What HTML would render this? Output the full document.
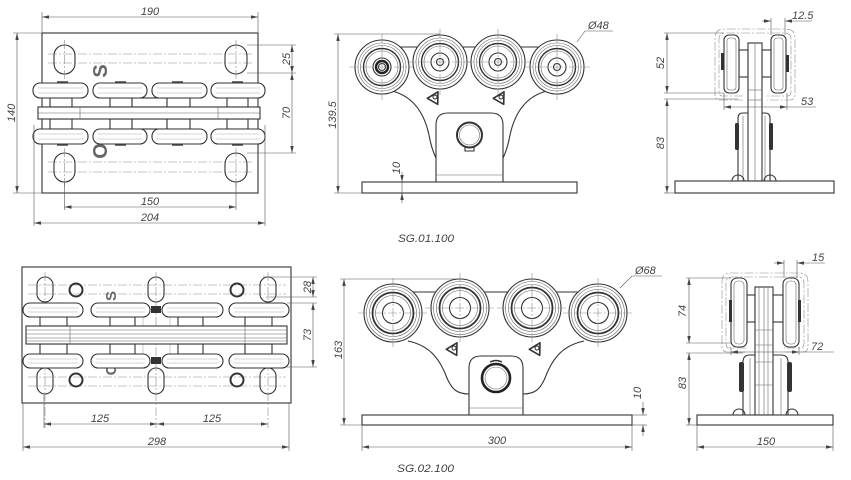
<!DOCTYPE html>
<html><head><meta charset="utf-8"><style>
html,body{margin:0;padding:0;background:#fff;}
svg{display:block}
.o{stroke:#333;stroke-width:1.1;fill:none}
.f{stroke:#333;stroke-width:1.1;fill:#fff}
.th{stroke:#666;stroke-width:.6;fill:none}
.lt{stroke:#aaa;stroke-width:.6;fill:none}
.d{stroke:#555;stroke-width:.6;fill:none}
.c{stroke:#8a8a8a;stroke-width:.6;fill:none;stroke-dasharray:9 2 2 2}
.t{font-family:"Liberation Sans",sans-serif;font-style:italic;font-size:11px;fill:#444}
.lg{font-family:"Liberation Sans",sans-serif;font-weight:bold;fill:#666}
</style></head><body>
<svg width="851" height="480" viewBox="0 0 851 480" xmlns="http://www.w3.org/2000/svg">
<defs>
<marker id="a" viewBox="0 0 8 4" refX="8" refY="2" markerWidth="7" markerHeight="3.5" orient="auto-start-reverse" markerUnits="userSpaceOnUse"><path d="M0,0L8,2L0,4z" fill="#444"/></marker>
<g id="w48">
<circle r="27" class="f"/>
<circle r="24" class="th"/>
<circle r="21.5" class="th"/>
<circle r="18.5" stroke="#333" stroke-width="1.4" fill="none"/>
<circle r="16" class="th"/>
<circle r="9" class="o"/>
<circle r="3.5" class="o"/>
<line x1="-33" y1="0" x2="33" y2="0" class="c"/>
<line x1="0" y1="-33" x2="0" y2="33" class="c"/>
</g>
<g id="w68">
<circle r="29" class="f"/>
<circle r="26.5" class="th"/>
<circle r="23.5" class="th"/>
<circle r="20.5" stroke="#333" stroke-width="1.8" fill="none"/>
<circle r="17.5" class="th"/>
<circle r="10.5" class="o"/>
<line x1="-35" y1="0" x2="35" y2="0" class="c"/>
<line x1="0" y1="-35" x2="0" y2="35" class="c"/>
</g>
<g id="tri">
<path d="M0,-6 L6,5 L-6,5 Z" stroke="#333" stroke-width="1.6" fill="#fff" stroke-linejoin="round"/>
<circle r="2" class="o"/>
</g>
</defs>

<!-- ================= VIEW 1 (top-left) ================= -->
<rect x="42" y="33" width="216" height="160" class="o"/>
<line x1="48" y1="54" x2="252" y2="54" class="c"/>
<line x1="48" y1="63" x2="252" y2="63" class="c"/>
<line x1="48" y1="162" x2="252" y2="162" class="c"/>
<line x1="48" y1="172" x2="252" y2="172" class="c"/>
<rect x="54" y="45" width="21" height="29" rx="10.5" class="o"/>
<rect x="225" y="45" width="22" height="29" rx="11" class="o"/>
<rect x="54" y="153" width="21" height="29" rx="10.5" class="o"/>
<rect x="225" y="153" width="22" height="29" rx="11" class="o"/>
<line x1="64.5" y1="40" x2="64.5" y2="80" class="c"/>
<line x1="236" y1="40" x2="236" y2="80" class="c"/>
<line x1="64.5" y1="148" x2="64.5" y2="188" class="c"/>
<line x1="236" y1="148" x2="236" y2="188" class="c"/>
<text class="lg" font-size="20" text-anchor="middle" transform="translate(107,71) rotate(-90)">S</text>
<text class="lg" font-size="20" text-anchor="middle" transform="translate(107,151) rotate(-90)">O</text>
<!-- stubs -->
<rect x="50" y="98" width="22" height="9" class="f"/>
<rect x="110" y="98" width="22" height="9" class="f"/>
<rect x="132" y="98" width="35" height="9" class="f"/>
<rect x="167" y="98" width="23" height="9" class="f"/>
<rect x="227" y="98" width="21" height="9" class="f"/>
<rect x="50" y="119" width="22" height="10" class="f"/>
<rect x="110" y="119" width="22" height="10" class="f"/>
<rect x="132" y="119" width="35" height="10" class="f"/>
<rect x="167" y="119" width="23" height="10" class="f"/>
<rect x="227" y="119" width="21" height="10" class="f"/>
<!-- center bar -->
<rect x="38" y="107" width="222" height="12" class="f"/>
<line x1="38" y1="113" x2="260" y2="113" class="th"/>
<line x1="80" y1="107" x2="80" y2="119" class="th"/>
<line x1="218" y1="107" x2="218" y2="119" class="th"/>
<!-- rollers -->
<rect x="33" y="83" width="55" height="15" rx="7" class="f"/>
<rect x="93" y="83" width="54" height="15" rx="7" class="f"/>
<rect x="152" y="83" width="55" height="15" rx="7" class="f"/>
<rect x="211" y="83" width="54" height="15" rx="7" class="f"/>
<rect x="33" y="129" width="55" height="15" rx="7" class="f"/>
<rect x="93" y="129" width="54" height="15" rx="7" class="f"/>
<rect x="152" y="129" width="55" height="15" rx="7" class="f"/>
<rect x="211" y="129" width="54" height="15" rx="7" class="f"/>
<g class="lt">
<line x1="38" y1="88" x2="83" y2="88"/><line x1="38" y1="93" x2="83" y2="93"/>
<line x1="98" y1="88" x2="142" y2="88"/><line x1="98" y1="93" x2="142" y2="93"/>
<line x1="157" y1="88" x2="202" y2="88"/><line x1="157" y1="93" x2="202" y2="93"/>
<line x1="216" y1="88" x2="260" y2="88"/><line x1="216" y1="93" x2="260" y2="93"/>
<line x1="38" y1="134" x2="83" y2="134"/><line x1="38" y1="139" x2="83" y2="139"/>
<line x1="98" y1="134" x2="142" y2="134"/><line x1="98" y1="139" x2="142" y2="139"/>
<line x1="157" y1="134" x2="202" y2="134"/><line x1="157" y1="139" x2="202" y2="139"/>
<line x1="216" y1="134" x2="260" y2="134"/><line x1="216" y1="139" x2="260" y2="139"/>
</g>
<g stroke="#444" stroke-width="1.5">
<line x1="57" y1="82" x2="68" y2="82"/><line x1="115" y1="82" x2="126" y2="82"/>
<line x1="172" y1="82" x2="183" y2="82"/><line x1="232" y1="82" x2="243" y2="82"/>
<line x1="57" y1="145" x2="68" y2="145"/><line x1="115" y1="145" x2="126" y2="145"/>
<line x1="172" y1="145" x2="183" y2="145"/><line x1="232" y1="145" x2="243" y2="145"/>
</g>
<!-- dims view1 -->
<g class="d">
<line x1="42" y1="12" x2="42" y2="33"/><line x1="258" y1="12" x2="258" y2="33"/>
<line x1="42" y1="17" x2="258" y2="17" marker-start="url(#a)" marker-end="url(#a)"/>
<line x1="13" y1="33" x2="42" y2="33"/><line x1="13" y1="193" x2="42" y2="193"/>
<line x1="17" y1="33" x2="17" y2="193" marker-start="url(#a)" marker-end="url(#a)"/>
<line x1="64.5" y1="182" x2="64.5" y2="210"/><line x1="236" y1="182" x2="236" y2="210"/>
<line x1="64.5" y1="207" x2="236" y2="207" marker-start="url(#a)" marker-end="url(#a)"/>
<line x1="34" y1="125" x2="34" y2="226"/><line x1="265" y1="125" x2="265" y2="226"/>
<line x1="34" y1="223" x2="265" y2="223" marker-start="url(#a)" marker-end="url(#a)"/>
<line x1="247" y1="45" x2="296" y2="45"/><line x1="247" y1="73" x2="296" y2="73"/><line x1="247" y1="153" x2="296" y2="153"/>
<line x1="292" y1="45" x2="292" y2="73" marker-start="url(#a)" marker-end="url(#a)"/>
<line x1="292" y1="73" x2="292" y2="153" marker-start="url(#a)" marker-end="url(#a)"/>
</g>
<text class="t" x="150" y="15" text-anchor="middle">190</text>
<text class="t" text-anchor="middle" transform="translate(15,113) rotate(-90)">140</text>
<text class="t" text-anchor="middle" transform="translate(290,59) rotate(-90)">25</text>
<text class="t" text-anchor="middle" transform="translate(290,113) rotate(-90)">70</text>
<text class="t" x="150" y="205" text-anchor="middle">150</text>
<text class="t" x="150" y="221" text-anchor="middle">204</text>

<!-- ================= VIEW 2 (top-middle) ================= -->
<line x1="382" y1="47" x2="557" y2="47" class="o"/>
<path d="M392,91 C412,96 424,112 429,135 C431,146 433,152 436,158" class="o"/>
<path d="M547,91 C527,96 515,112 510,135 C508,146 506,152 503,158" class="o"/>
<path d="M436,182 L436,125 Q436,113 448,113 L491,113 Q503,113 503,125 L503,182" class="o"/>
<line x1="436" y1="175" x2="503" y2="175" class="th"/>
<circle cx="469.5" cy="135" r="12.5" stroke="#333" stroke-width="2" fill="none"/>
<circle cx="469.5" cy="135" r="10" class="th"/>
<path d="M465,147 L465,151 L474,151 L474,147" class="o"/>
<use href="#tri" transform="translate(435,97) rotate(30)"/>
<use href="#tri" transform="translate(501,97) rotate(30)"/>
<use href="#w48" x="382" y="67"/>
<use href="#w48" x="440" y="62"/>
<use href="#w48" x="498" y="62"/>
<use href="#w48" x="557" y="67"/>
<circle cx="382" cy="67" r="6" stroke="#222" stroke-width="2.4" fill="none"/>
<rect x="362" y="182" width="215" height="11" class="f"/>
<g class="d">
<line x1="334" y1="34" x2="440" y2="34"/><line x1="334" y1="193" x2="362" y2="193"/>
<line x1="338" y1="34" x2="338" y2="193" marker-start="url(#a)" marker-end="url(#a)"/>
<line x1="402" y1="172" x2="402" y2="182" marker-end="url(#a)"/>
<line x1="402" y1="203" x2="402" y2="193" marker-end="url(#a)"/>
<line x1="402" y1="182" x2="402" y2="193"/>
<path d="M577,42 L585,31 L613,31"/>
</g>
<text class="t" text-anchor="middle" transform="translate(336,115) rotate(-90)">139.5</text>
<text class="t" text-anchor="middle" font-size="10" transform="translate(400,168) rotate(-90)">10</text>
<text class="t" x="588" y="29" font-size="10">Ø48</text>
<text class="t" x="398" y="242" font-size="12" textLength="56" lengthAdjust="spacingAndGlyphs">SG.01.100</text>

<!-- ================= VIEW 3 (top-right) ================= -->
<path d="M743,100 L720,100 Q715,100 715,94 L715,38 Q715,29 724,29 L786,29 Q795,29 795,38 L795,94 Q795,100 790,100 L767,100" class="c"/>
<path d="M743,96 L722,96 Q719,96 719,91 L719,39 Q719,33 726,33 L784,33 Q791,33 791,39 L791,91 Q791,96 788,96 L767,96" class="c"/>
<path d="M738,181 L738,118 Q738,113 743,113 L765,113 Q770,113 770,118 L770,181" class="f"/>
<line x1="743" y1="116" x2="743" y2="181" class="th"/>
<line x1="765" y1="116" x2="765" y2="181" class="th"/>
<rect x="735" y="123" width="4" height="27" rx="1.5" fill="#333"/>
<rect x="769" y="123" width="4" height="27" rx="1.5" fill="#333"/>
<path d="M732,181 A6,6 0 0 1 744,181" class="o"/>
<path d="M764,181 A6,6 0 0 1 776,181" class="o"/>
<rect x="739" y="50" width="9" height="27" class="f"/>
<rect x="762" y="50" width="9" height="27" class="f"/>
<rect x="748" y="43" width="14" height="138" class="f"/>
<line x1="755" y1="43" x2="755" y2="181" class="th"/>
<line x1="748" y1="90" x2="762" y2="90" class="th"/>
<line x1="748" y1="100" x2="762" y2="100" class="th"/>
<rect x="724" y="35" width="15" height="58" rx="5" class="f"/>
<rect x="727" y="38" width="9" height="52" rx="3" class="th"/>
<rect x="771" y="35" width="15" height="58" rx="5" class="f"/>
<rect x="774" y="38" width="9" height="52" rx="3" class="th"/>
<rect x="721" y="53" width="3" height="17" fill="#333"/>
<rect x="786" y="55" width="3" height="17" fill="#333"/>
<rect x="675" y="181" width="159" height="12" class="f"/>
<g class="d">
<line x1="664" y1="33" x2="724" y2="33"/><line x1="664" y1="93" x2="724" y2="93"/>
<line x1="667" y1="33" x2="667" y2="93" marker-start="url(#a)" marker-end="url(#a)"/>
<line x1="664" y1="99" x2="738" y2="99"/><line x1="664" y1="193" x2="675" y2="193"/>
<line x1="667" y1="99" x2="667" y2="193" marker-start="url(#a)" marker-end="url(#a)"/>
<line x1="771" y1="18" x2="771" y2="35"/><line x1="785" y1="18" x2="785" y2="35"/>
<line x1="762" y1="21" x2="771" y2="21" marker-end="url(#a)"/>
<line x1="812" y1="21" x2="785" y2="21" marker-end="url(#a)"/>
<line x1="724" y1="93" x2="724" y2="110"/><line x1="787" y1="93" x2="787" y2="110"/>
<line x1="724" y1="107" x2="787" y2="107" marker-start="url(#a)" marker-end="url(#a)"/>
<line x1="787" y1="107" x2="816" y2="107"/>
</g>
<text class="t" text-anchor="middle" transform="translate(664,63) rotate(-90)">52</text>
<text class="t" text-anchor="middle" transform="translate(664,143) rotate(-90)">83</text>
<text class="t" x="792" y="19" font-size="11">12.5</text>
<text class="t" x="801" y="105" font-size="12">53</text>

<!-- ================= VIEW 4 (bottom-left) ================= -->
<rect x="22" y="267" width="269" height="136" class="o"/>
<line x1="28" y1="285" x2="286" y2="285" class="c"/>
<line x1="28" y1="294" x2="286" y2="294" class="c"/>
<line x1="28" y1="377" x2="286" y2="377" class="c"/>
<line x1="28" y1="386" x2="286" y2="386" class="c"/>
<rect x="37" y="277" width="16" height="25" rx="8" class="o"/>
<rect x="148" y="277" width="16" height="25" rx="8" class="o"/>
<rect x="260" y="277" width="16" height="25" rx="8" class="o"/>
<rect x="37" y="368" width="16" height="26" rx="8" class="o"/>
<rect x="148" y="368" width="16" height="26" rx="8" class="o"/>
<rect x="260" y="368" width="16" height="26" rx="8" class="o"/>
<line x1="45" y1="272" x2="45" y2="428" class="c"/>
<line x1="156" y1="272" x2="156" y2="428" class="c"/>
<line x1="268" y1="272" x2="268" y2="428" class="c"/>
<circle cx="76" cy="290" r="6.5" stroke="#333" stroke-width="2" fill="none"/>
<circle cx="237" cy="290" r="6.5" stroke="#333" stroke-width="2" fill="none"/>
<circle cx="76" cy="380" r="6.5" stroke="#333" stroke-width="2" fill="none"/>
<circle cx="237" cy="380" r="6.5" stroke="#333" stroke-width="2" fill="none"/>
<text class="lg" font-size="15" text-anchor="middle" transform="translate(116,296) rotate(-90)">S</text>
<text class="lg" font-size="15" text-anchor="middle" transform="translate(116,370) rotate(-90)">C</text>
<line x1="143" y1="317" x2="143" y2="355" class="lt"/>
<line x1="170" y1="317" x2="170" y2="355" class="lt"/>
<rect x="40" y="317" width="27" height="9" class="f"/>
<rect x="110" y="317" width="25" height="9" class="f"/>
<rect x="178" y="317" width="25" height="9" class="f"/>
<rect x="245" y="317" width="27" height="9" class="f"/>
<rect x="40" y="344" width="27" height="10" class="f"/>
<rect x="110" y="344" width="25" height="10" class="f"/>
<rect x="178" y="344" width="25" height="10" class="f"/>
<rect x="245" y="344" width="27" height="10" class="f"/>
<rect x="26" y="326" width="261" height="18" class="f"/>
<g class="th">
<line x1="26" y1="330" x2="287" y2="330"/><line x1="26" y1="334" x2="287" y2="334"/>
<line x1="26" y1="338" x2="287" y2="338"/><line x1="26" y1="341" x2="287" y2="341"/>
<line x1="70" y1="326" x2="70" y2="344"/><line x1="245" y1="326" x2="245" y2="344"/>
</g>
<rect x="151" y="306" width="10" height="7" fill="#333"/>
<rect x="151" y="357" width="10" height="7" fill="#333"/>
<rect x="23" y="303" width="60" height="14" rx="7" class="f"/>
<rect x="91" y="303" width="59" height="14" rx="7" class="f"/>
<rect x="162" y="303" width="61" height="14" rx="7" class="f"/>
<rect x="229" y="303" width="60" height="14" rx="7" class="f"/>
<rect x="23" y="354" width="60" height="14" rx="7" class="f"/>
<rect x="91" y="354" width="59" height="14" rx="7" class="f"/>
<rect x="162" y="354" width="61" height="14" rx="7" class="f"/>
<rect x="229" y="354" width="60" height="14" rx="7" class="f"/>
<g class="lt">
<line x1="28" y1="308" x2="78" y2="308"/><line x1="28" y1="312" x2="78" y2="312"/>
<line x1="96" y1="308" x2="145" y2="308"/><line x1="96" y1="312" x2="145" y2="312"/>
<line x1="167" y1="308" x2="218" y2="308"/><line x1="167" y1="312" x2="218" y2="312"/>
<line x1="234" y1="308" x2="284" y2="308"/><line x1="234" y1="312" x2="284" y2="312"/>
<line x1="28" y1="359" x2="78" y2="359"/><line x1="28" y1="363" x2="78" y2="363"/>
<line x1="96" y1="359" x2="145" y2="359"/><line x1="96" y1="363" x2="145" y2="363"/>
<line x1="167" y1="359" x2="218" y2="359"/><line x1="167" y1="363" x2="218" y2="363"/>
<line x1="234" y1="359" x2="284" y2="359"/><line x1="234" y1="363" x2="284" y2="363"/>
</g>
<g class="d">
<line x1="263" y1="277" x2="317" y2="277"/><line x1="266" y1="297" x2="317" y2="297"/>
<line x1="287" y1="303" x2="317" y2="303"/><line x1="287" y1="367" x2="317" y2="367"/>
<line x1="313" y1="277" x2="313" y2="297" marker-start="url(#a)" marker-end="url(#a)"/>
<line x1="313" y1="303" x2="313" y2="367" marker-start="url(#a)" marker-end="url(#a)"/>
<line x1="44" y1="395" x2="44" y2="428"/>
<line x1="44" y1="424" x2="157" y2="424" marker-start="url(#a)" marker-end="url(#a)"/>
<line x1="157" y1="424" x2="268" y2="424" marker-start="url(#a)" marker-end="url(#a)"/>
<line x1="23" y1="403" x2="23" y2="451"/><line x1="289" y1="403" x2="289" y2="451"/>
<line x1="23" y1="447" x2="289" y2="447" marker-start="url(#a)" marker-end="url(#a)"/>
</g>
<text class="t" text-anchor="middle" transform="translate(311,287) rotate(-90)">28</text>
<text class="t" text-anchor="middle" transform="translate(311,335) rotate(-90)">73</text>
<text class="t" x="100" y="422" text-anchor="middle">125</text>
<text class="t" x="212" y="422" text-anchor="middle">125</text>
<text class="t" x="157" y="445" text-anchor="middle">298</text>

<!-- ================= VIEW 5 (bottom-middle) ================= -->
<line x1="393" y1="292" x2="598" y2="292" class="o"/>
<path d="M408,341 C432,346 441,362 447,378 C452,390 458,394 469,394" class="o"/>
<path d="M584,341 C560,346 551,362 545,378 C540,390 534,394 523,394" class="o"/>
<path d="M469,415 L469,368 Q469,356 481,356 L511,356 Q523,356 523,368 L523,415" class="o"/>
<line x1="469" y1="408" x2="523" y2="408" class="th"/>
<circle cx="496" cy="378" r="14" stroke="#222" stroke-width="2.6" fill="none"/>
<circle cx="496" cy="378" r="11" class="th"/>
<path d="M490,362 Q496,359 502,362" stroke="#333" stroke-width="1.5" fill="none"/>
<use href="#tri" transform="translate(454,348) rotate(30)"/>
<use href="#tri" transform="translate(537,348) rotate(30)"/>
<use href="#w68" x="393" y="313"/>
<use href="#w68" x="460" y="308"/>
<use href="#w68" x="532" y="308"/>
<use href="#w68" x="598" y="313"/>
<rect x="362" y="415" width="270" height="10" class="f"/>
<g class="d">
<line x1="340" y1="279" x2="460" y2="279"/><line x1="340" y1="425" x2="362" y2="425"/>
<line x1="344" y1="279" x2="344" y2="425" marker-start="url(#a)" marker-end="url(#a)"/>
<line x1="362" y1="425" x2="362" y2="451"/><line x1="632" y1="425" x2="632" y2="451"/>
<line x1="362" y1="447" x2="632" y2="447" marker-start="url(#a)" marker-end="url(#a)"/>
<line x1="632" y1="415" x2="647" y2="415"/><line x1="632" y1="425" x2="647" y2="425"/>
<line x1="643" y1="402" x2="643" y2="415" marker-end="url(#a)"/>
<line x1="643" y1="436" x2="643" y2="425" marker-end="url(#a)"/>
<path d="M620,288 L632,276 L662,276"/>
</g>
<text class="t" text-anchor="middle" transform="translate(342,350) rotate(-90)">163</text>
<text class="t" x="497" y="444" text-anchor="middle">300</text>
<text class="t" text-anchor="middle" font-size="10" transform="translate(641,393) rotate(-90)">10</text>
<text class="t" x="635" y="274" font-size="11">Ø68</text>
<text class="t" x="397" y="472" font-size="12" textLength="57" lengthAdjust="spacingAndGlyphs">SG.02.100</text>

<!-- ================= VIEW 6 (bottom-right) ================= -->
<path d="M746,352 L727,352 Q722,352 722,346 L722,282 Q722,273 731,273 L799,273 Q808,273 808,282 L808,346 Q808,352 803,352 L784,352" class="c"/>
<path d="M746,348 L729,348 Q726,348 726,343 L726,283 Q726,277 733,277 L797,277 Q804,277 804,283 L804,343 Q804,348 801,348 L784,348" class="c"/>
<path d="M743,415 L743,362 Q743,355 750,355 L781,355 Q788,355 788,362 L788,415" class="f"/>
<line x1="750" y1="358" x2="750" y2="415" class="th"/>
<line x1="781" y1="358" x2="781" y2="415" class="th"/>
<rect x="739" y="362" width="5" height="30" rx="2" fill="#333"/>
<rect x="787" y="362" width="5" height="30" rx="2" fill="#333"/>
<path d="M733,415 A6,6 0 0 1 745,415" class="o"/>
<path d="M786,415 A6,6 0 0 1 798,415" class="o"/>
<rect x="747" y="295" width="8" height="27" class="f"/>
<rect x="773" y="295" width="10" height="27" class="f"/>
<rect x="755" y="287" width="18" height="128" class="f"/>
<g class="th">
<line x1="759" y1="287" x2="759" y2="415"/><line x1="764" y1="287" x2="764" y2="415"/><line x1="768" y1="287" x2="768" y2="415"/>
<line x1="755" y1="330" x2="773" y2="330"/><line x1="755" y1="345" x2="773" y2="345"/>
<line x1="755" y1="362" x2="773" y2="362"/><line x1="755" y1="385" x2="773" y2="385"/>
</g>
<rect x="731" y="278" width="16" height="69" rx="6" class="f"/>
<rect x="734" y="281" width="10" height="63" rx="4" class="th"/>
<rect x="783" y="278" width="16" height="69" rx="6" class="f"/>
<rect x="786" y="281" width="10" height="63" rx="4" class="th"/>
<rect x="729" y="300" width="3" height="22" fill="#333"/>
<rect x="798" y="300" width="3" height="22" fill="#333"/>
<rect x="697" y="415" width="136" height="10" class="f"/>
<g class="d">
<line x1="686" y1="278" x2="731" y2="278"/><line x1="686" y1="343" x2="731" y2="343"/>
<line x1="689" y1="278" x2="689" y2="343" marker-start="url(#a)" marker-end="url(#a)"/>
<line x1="686" y1="353" x2="743" y2="353"/><line x1="686" y1="425" x2="697" y2="425"/>
<line x1="689" y1="353" x2="689" y2="425" marker-start="url(#a)" marker-end="url(#a)"/>
<line x1="697" y1="425" x2="697" y2="451"/><line x1="833" y1="425" x2="833" y2="451"/>
<line x1="697" y1="447" x2="833" y2="447" marker-start="url(#a)" marker-end="url(#a)"/>
<line x1="784" y1="260" x2="784" y2="278"/><line x1="797" y1="260" x2="797" y2="278"/>
<line x1="774" y1="263" x2="784" y2="263" marker-end="url(#a)"/>
<line x1="825" y1="263" x2="797" y2="263" marker-end="url(#a)"/>
<line x1="731" y1="347" x2="731" y2="355"/><line x1="799" y1="347" x2="799" y2="355"/>
<line x1="731" y1="352" x2="799" y2="352" marker-start="url(#a)" marker-end="url(#a)"/>
<line x1="799" y1="352" x2="834" y2="352"/>
</g>
<text class="t" text-anchor="middle" transform="translate(686,311) rotate(-90)">74</text>
<text class="t" text-anchor="middle" transform="translate(686,383) rotate(-90)">83</text>
<text class="t" x="766" y="445" text-anchor="middle">150</text>
<text class="t" x="812" y="261" font-size="12">15</text>
<text class="t" x="811" y="350" font-size="12">72</text>
</svg>
</body></html>
